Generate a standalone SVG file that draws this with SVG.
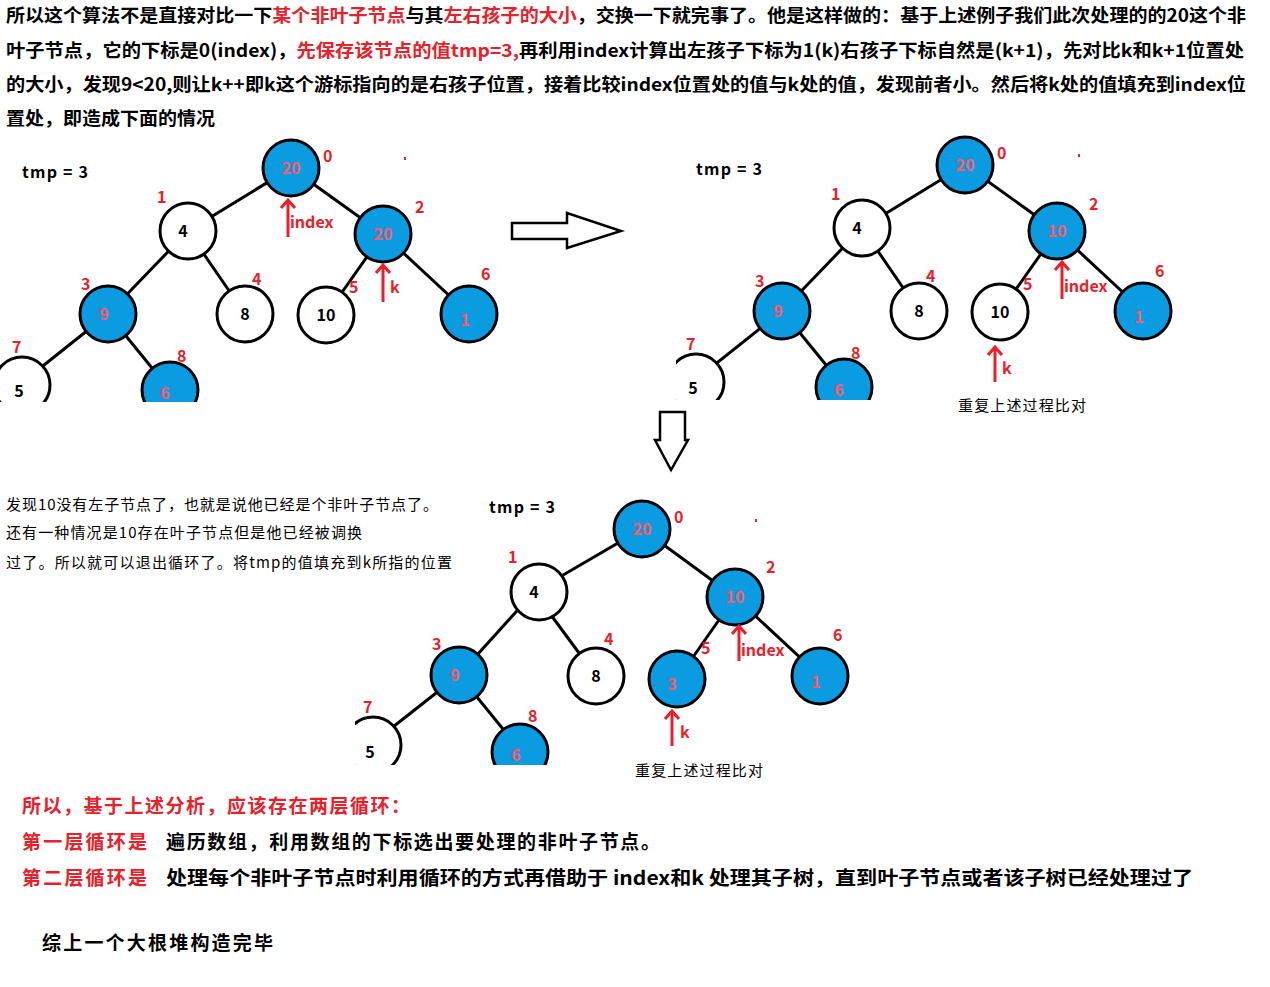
<svg xmlns="http://www.w3.org/2000/svg" width="1270" height="987" viewBox="0 0 1270 987">
<style>
text{font-family:"Noto Sans CJK SC","Noto Sans",sans-serif}
.p{font-size:18px;font-weight:bold;fill:#000}
.r{fill:#e8202a}
.b circle{fill:#0a9be0;stroke:#000;stroke-width:3}
.w circle{fill:#fff;stroke:#000;stroke-width:3}
.b text{fill:#ff5a6a;font-size:16px;font-weight:bold;text-anchor:middle}
.w text{fill:#000;font-size:16px;font-weight:bold;text-anchor:middle}
.idx{fill:#e8202a;font-size:16px;font-weight:bold}
.e line{stroke:#000;stroke-width:3}
.ar{stroke:#e8202a;stroke-width:3;fill:none}
.s{font-size:16px;font-weight:bold}
</style>
<defs>
<clipPath id="c1"><rect x="0" y="130" width="520" height="272"/></clipPath>
<clipPath id="c2"><rect x="676" y="130" width="520" height="270"/></clipPath>
<clipPath id="c3"><rect x="355" y="490" width="520" height="275"/></clipPath>
<g id="tree">
<g class="e">
<line x1="291" y1="168" x2="188" y2="231"/><line x1="291" y1="168" x2="383" y2="234"/>
<line x1="188" y1="231" x2="108" y2="314"/><line x1="188" y1="231" x2="245" y2="314"/>
<line x1="383" y1="234" x2="326" y2="315"/><line x1="383" y1="234" x2="469" y2="314"/>
<line x1="108" y1="314" x2="19" y2="385"/><line x1="108" y1="314" x2="170" y2="390"/>
</g>
</g>
</defs>
<text class="p" x="6" y="22" textLength="1240" lengthAdjust="spacingAndGlyphs">所以这个算法不是直接对比一下<tspan class="r">某个非叶子节点</tspan>与其<tspan class="r">左右孩子的大小</tspan>，交换一下就完事了。他是这样做的：基于上述例子我们此次处理的的20这个非</text>
<text class="p" x="6" y="57" textLength="1238" lengthAdjust="spacingAndGlyphs">叶子节点，它的下标是0(index)，<tspan class="r">先保存该节点的值tmp=3,</tspan>再利用index计算出左孩子下标为1(k)右孩子下标自然是(k+1)，先对比k和k+1位置处</text>
<text class="p" x="6" y="91" textLength="1240" lengthAdjust="spacingAndGlyphs">的大小，发现9&lt;20,则让k++即k这个游标指向的是右孩子位置，接着比较index位置处的值与k处的值，发现前者小。然后将k处的值填充到index位</text>
<text class="p" x="6" y="125" textLength="209" lengthAdjust="spacingAndGlyphs">置处，即造成下面的情况</text>

<!-- Tree 1 -->
<g clip-path="url(#c1)">
<use href="#tree"/>
<g id="t1n0" class="b"><circle cx="291" cy="168" r="28"/><text x="291" y="174">20</text></g>
<g id="t1n1" class="w"><circle cx="188" cy="231" r="28"/><text x="183" y="237">4</text></g>
<g id="t1n2" class="b"><circle cx="383" cy="234" r="28"/><text x="383" y="240">20</text></g>
<g id="t1n3" class="b"><circle cx="108" cy="314" r="28"/><text x="104" y="320">9</text></g>
<g id="t1n4" class="w"><circle cx="245" cy="314" r="28"/><text x="245" y="320">8</text></g>
<g id="t1n5" class="w"><circle cx="326" cy="315" r="28"/><text x="326" y="321">10</text></g>
<g id="t1n6" class="b"><circle cx="469" cy="314" r="28"/><text x="465" y="326">1</text></g>
<g id="t1n7" class="w"><circle cx="22" cy="385" r="28"/><text x="19" y="397">5</text></g>
<g id="t1n8" class="b"><circle cx="170" cy="390" r="28"/><text x="165" y="399">6</text></g>
</g>
<text class="s" x="22" y="178" textLength="66">tmp = 3</text>
<g class="idx"><text x="323" y="162">0</text><text x="157" y="203">1</text><text x="415" y="213">2</text><text x="81" y="290">3</text><text x="252" y="285">4</text><text x="349" y="293">5</text><text x="481" y="280">6</text><text x="12" y="353">7</text><text x="177" y="362">8</text><text x="290" y="228">index</text><text x="390" y="293">k</text></g>
<path class="ar" d="M288 237V200M281 208L288 200L295 208M383 302V265M376 273L383 265L390 273"/>
<rect x="404" y="157" width="2" height="3" fill="#e8202a"/>

<!-- big arrows -->
<path d="M512 223H567V213L621 231L567 248V239H512Z" fill="#fff" stroke="#000" stroke-width="2.5"/>
<path d="M660 412H685V440H688L671 470L655 440H660Z" fill="#fff" stroke="#000" stroke-width="2.5"/>

<!-- Tree 2 -->
<g clip-path="url(#c2)">
<use href="#tree" transform="translate(674,-3)"/>
<g id="t2n0" class="b"><circle cx="965" cy="165" r="28"/><text x="965" y="171">20</text></g>
<g id="t2n1" class="w"><circle cx="862" cy="228" r="28"/><text x="857" y="234">4</text></g>
<g id="t2n2" class="b"><circle cx="1057" cy="231" r="28"/><text x="1057" y="237">10</text></g>
<g id="t2n3" class="b"><circle cx="782" cy="311" r="28"/><text x="778" y="317">9</text></g>
<g id="t2n4" class="w"><circle cx="919" cy="311" r="28"/><text x="919" y="317">8</text></g>
<g id="t2n5" class="w"><circle cx="1000" cy="312" r="28"/><text x="1000" y="318">10</text></g>
<g id="t2n6" class="b"><circle cx="1143" cy="311" r="28"/><text x="1139" y="323">1</text></g>
<g id="t2n7" class="w"><circle cx="696" cy="382" r="28"/><text x="693" y="394">5</text></g>
<g id="t2n8" class="b"><circle cx="844" cy="387" r="28"/><text x="839" y="396">6</text></g>
</g>
<text class="s" x="696" y="175" textLength="66">tmp = 3</text>
<g class="idx"><text x="997" y="159">0</text><text x="831" y="200">1</text><text x="1089" y="210">2</text><text x="755" y="287">3</text><text x="926" y="282">4</text><text x="1023" y="290">5</text><text x="1155" y="277">6</text><text x="686" y="350">7</text><text x="851" y="359">8</text><text x="1064" y="292">index</text><text x="1002" y="374">k</text></g>
<path class="ar" d="M1062 299V262M1055 270L1062 262L1069 270M995 382V347M988 355L995 347L1002 355"/>
<rect x="1078" y="154" width="2" height="3" fill="#e8202a"/>
<text x="958" y="411" style="font-size:15px;fill:#000" textLength="128">重复上述过程比对</text>

<!-- left text -->
<text x="6" y="510" style="font-size:15px" textLength="432">发现10没有左子节点了，也就是说他已经是个非叶子节点了。</text>
<text x="6" y="538" style="font-size:15px" textLength="356">还有一种情况是10存在叶子节点但是他已经被调换</text>
<text x="6" y="568" style="font-size:15px" textLength="446">过了。所以就可以退出循环了。将tmp的值填充到k所指的位置</text>

<!-- Tree 3 -->
<g clip-path="url(#c3)">
<g class="e">
<line x1="642" y1="529" x2="534" y2="592"/><line x1="642" y1="529" x2="735" y2="597"/>
<line x1="534" y1="592" x2="459" y2="675"/><line x1="534" y1="592" x2="596" y2="676"/>
<line x1="735" y1="597" x2="677" y2="680"/><line x1="735" y1="597" x2="820" y2="676"/>
<line x1="459" y1="675" x2="370" y2="745"/><line x1="459" y1="675" x2="520" y2="750"/>
</g>
<g id="t3n0" class="b"><circle cx="642" cy="529" r="28"/><text x="642" y="535">20</text></g>
<g id="t3n1" class="w"><circle cx="539" cy="592" r="28"/><text x="534" y="598">4</text></g>
<g id="t3n2" class="b"><circle cx="735" cy="597" r="28"/><text x="735" y="603">10</text></g>
<g id="t3n3" class="b"><circle cx="459" cy="675" r="28"/><text x="455" y="681">9</text></g>
<g id="t3n4" class="w"><circle cx="596" cy="676" r="28"/><text x="596" y="682">8</text></g>
<g id="t3n5" class="b"><circle cx="677" cy="679" r="28"/><text x="672" y="690">3</text></g>
<g id="t3n6" class="b"><circle cx="820" cy="676" r="28"/><text x="816" y="688">1</text></g>
<g id="t3n7" class="w"><circle cx="373" cy="745" r="28"/><text x="370" y="758">5</text></g>
<g id="t3n8" class="b"><circle cx="520" cy="752" r="28"/><text x="516" y="761">6</text></g>
</g>
<text class="s" x="489" y="513" textLength="66">tmp = 3</text>
<g class="idx"><text x="674" y="523">0</text><text x="508" y="563">1</text><text x="766" y="573">2</text><text x="432" y="650">3</text><text x="604" y="645">4</text><text x="701" y="654">5</text><text x="833" y="641">6</text><text x="363" y="713">7</text><text x="528" y="722">8</text><text x="741" y="656">index</text><text x="680" y="738">k</text></g>
<path class="ar" d="M739 661V626M732 634L739 626L746 634M672 746V711M665 719L672 711L679 719"/>
<rect x="755" y="519" width="2" height="3" fill="#e8202a"/>
<text x="635" y="776" style="font-size:15px;fill:#000" textLength="128">重复上述过程比对</text>

<!-- bottom -->
<text class="p r" x="22" y="813" style="font-size:19px" textLength="388">所以，基于上述分析，应该存在两层循环：</text>
<text class="p r" x="22" y="849" style="font-size:19px" textLength="125">第一层循环是</text>
<text class="p" x="166" y="849" style="font-size:19px" textLength="494">遍历数组，利用数组的下标选出要处理的非叶子节点。</text>
<text class="p r" x="22" y="885" style="font-size:19px" textLength="125">第二层循环是</text>
<text class="p" x="166" y="885" style="font-size:19px" textLength="1027" lengthAdjust="spacingAndGlyphs">处理每个非叶子节点时利用循环的方式再借助于 index和k 处理其子树，直到叶子节点或者该子树已经处理过了</text>
<text class="p" x="42" y="950" style="font-size:19px" textLength="231">综上一个大根堆构造完毕</text>
</svg>
